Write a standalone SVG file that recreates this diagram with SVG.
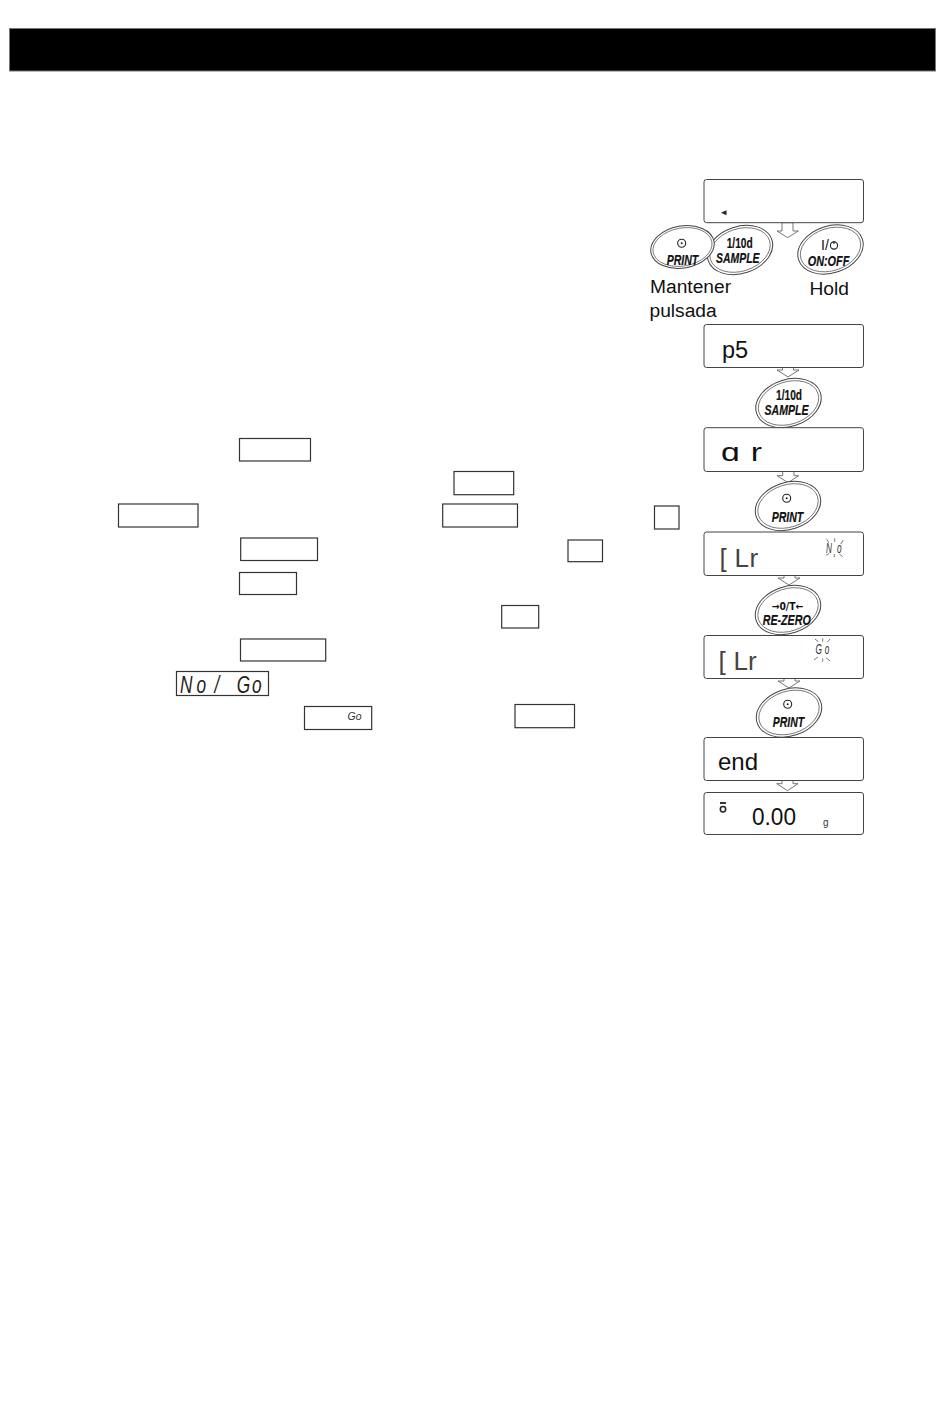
<svg xmlns="http://www.w3.org/2000/svg" width="950" height="1408" viewBox="0 0 950 1408">
<style>
text{font-family:"Liberation Sans",Arial,sans-serif;fill:#111}
.box{fill:#fff;stroke:#333;stroke-width:1.2}
.lcd{fill:#fff;stroke:#444;stroke-width:1}
.o1{fill:#fff;stroke:#444;stroke-width:1}
.o2{fill:none;stroke:#666;stroke-width:.8}
.k{font-weight:bold;font-style:italic;font-size:14px;stroke:#111;stroke-width:.2}
.n{font-weight:bold;font-size:14px;stroke:#111;stroke-width:.2}
.arrow{fill:#fff;stroke:#666;stroke-width:.9}
.ray{stroke:#555;stroke-width:.8;fill:none}
.seg{font-size:26px;font-weight:normal;fill:#444}
.sym{fill:none;stroke:#222;stroke-width:1.1}
</style>
<defs>
<g id="oval"><ellipse class="o1" rx="33.5" ry="23.5" transform="rotate(-18)"/><ellipse class="o2" rx="31" ry="21.2" transform="rotate(-18)"/></g>
<g id="ovalw"><ellipse class="o1" rx="32" ry="21" transform="rotate(-10)"/><ellipse class="o2" rx="29.8" ry="19" transform="rotate(-10)"/></g>
</defs>
<rect id="header" x="9.5" y="28.5" width="926" height="42.5" fill="#000" stroke="#777" stroke-width="1"/>

<g id="connectors">
<polygon class="arrow" points="782,222.7 793,222.7 793,231 798.3,231 787.7,237.7 777,231 782,231"/>
<polygon class="arrow" points="782.5,367.5 793.5,367.5 793.5,370 799,370 788,377 777,370 782.5,370"/>
<polygon class="arrow" points="782.7,471.5 794,471.5 794,475.7 798.7,475.7 788,482.7 777,475.7 782.7,475.7"/>
<polygon class="arrow" points="784,575.5 795,575.5 795,578 800,578 789,585 778,578 784,578"/>
<polygon class="arrow" points="784,678.5 795,678.5 795,681 800,681 789,688 778,681 784,681"/>
<polygon class="arrow" points="782,780.5 793,780.5 793,783.7 798,783.7 787.5,790.7 776.7,783.7 782,783.7"/>
</g>

<g id="inline-boxes">
<rect class="box" x="239.5" y="438.5" width="71" height="22.5"/>
<rect class="box" x="118.5" y="504" width="79.5" height="23"/>
<rect class="box" x="240.7" y="538" width="76.8" height="22.5"/>
<rect class="box" x="239.5" y="572.5" width="57" height="22"/>
<rect class="box" x="240.5" y="639" width="85.2" height="22"/>
<rect class="box" x="454" y="471.5" width="59.7" height="23.2"/>
<rect class="box" x="442.7" y="504" width="74.8" height="23"/>
<rect class="box" x="654.5" y="506" width="24.5" height="23"/>
<rect class="box" x="568" y="540" width="34.5" height="21.7"/>
<rect class="box" x="501.7" y="605.5" width="37" height="22.5"/>
<rect class="box" x="515" y="704.5" width="59.5" height="23.2"/>
</g>
<g id="box-nogo">
<rect class="box" x="176.5" y="671.5" width="92" height="24"/>
<text transform="translate(180,693) scale(.72,1)" font-size="24" font-style="italic" x="0 23 48 79 100" style="fill:#222">No/Go</text>
</g>
<g id="box-go">
<rect class="box" x="304.5" y="706.5" width="67.2" height="23"/>
<text x="347.5" y="720" font-size="11" font-style="italic" textLength="14" lengthAdjust="spacingAndGlyphs" style="fill:#333">Go</text>
</g>

<g id="lcd-1">
<rect class="lcd" x="704" y="179.5" width="159.5" height="43.2" rx="2.5"/>
<polygon points="721,212.8 726.5,210.3 726.5,215.2" fill="#222"/>
</g>
<g id="key-sample-1">
<use href="#oval" x="740" y="250"/>
<text class="n" x="726.7" y="248" textLength="26" lengthAdjust="spacingAndGlyphs">1/10d</text>
<text class="k" x="716" y="263" textLength="43.5" lengthAdjust="spacingAndGlyphs">SAMPLE</text>
</g>
<g id="key-print-1">
<use href="#ovalw" x="682.5" y="247"/>
<circle class="sym" cx="681.7" cy="243.3" r="4"/><circle cx="681.7" cy="243.3" r="1" fill="#222"/>
<text class="k" x="666.7" y="265" textLength="31.6" lengthAdjust="spacingAndGlyphs">PRINT</text>
</g>
<g id="key-onoff">
<use href="#oval" x="830.5" y="249.5"/>
<text x="821" y="250" font-size="14" style="font-weight:normal">I/</text>
<circle class="sym" cx="834" cy="245.5" r="3.6"/><line class="sym" x1="834" y1="241" x2="834" y2="244"/>
<text class="k" x="807.7" y="266" textLength="41.6" lengthAdjust="spacingAndGlyphs">ON:OFF</text>
</g>
<text id="label-mantener" x="650" y="293" font-size="19.2">Mantener</text>
<text id="label-pulsada" x="649.5" y="317" font-size="19.2">pulsada</text>
<text id="label-hold" x="809.5" y="295" font-size="19.2">Hold</text>

<g id="lcd-2">
<rect class="lcd" x="704" y="324.5" width="159.5" height="43" rx="2.5"/>
<text x="722" y="358" font-size="23.5">p5</text>
</g>
<g id="key-sample-2">
<use href="#oval" x="788.5" y="403"/>
<text class="n" x="776" y="400" textLength="26" lengthAdjust="spacingAndGlyphs">1/10d</text>
<text class="k" x="764.5" y="415" textLength="44" lengthAdjust="spacingAndGlyphs">SAMPLE</text>
</g>
<g id="lcd-3">
<rect class="lcd" x="704" y="427.7" width="159.5" height="43.8" rx="2.5"/>
<text transform="translate(721,461) scale(1.35,1)" font-size="25" x="0 22">ɑr</text>
</g>
<g id="key-print-2">
<use href="#oval" x="788" y="506"/>
<circle class="sym" cx="786.7" cy="498.3" r="4"/><circle cx="786.7" cy="498.3" r="1" fill="#222"/>
<text class="k" x="771.7" y="521.7" textLength="31.6" lengthAdjust="spacingAndGlyphs">PRINT</text>
</g>
<g id="lcd-4">
<rect class="lcd" x="704" y="532" width="159.5" height="43.5" rx="2.5"/>
<text class="seg" y="566.5" x="719.5 734.5 749.5">[Lr</text>
<text transform="translate(826,553) scale(.55,1)" font-size="15" font-style="italic" x="0 20" style="fill:#333">No</text>
<path class="ray" d="M843.3 540L840.7 544M826.7 539.3L828.7 542.7M834.7 538.3V542M826 555.3L829.3 553.3M834.3 554V557.3M839.3 554L842.7 556.7"/>
</g>
<g id="key-rezero">
<use href="#oval" x="788" y="610"/>
<text x="771.7" y="610" textLength="31.6" lengthAdjust="spacingAndGlyphs" style="font-family:'DejaVu Sans',sans-serif;font-size:10px;font-weight:bold">→0/T←</text>
<text class="k" x="762.7" y="625" textLength="48" lengthAdjust="spacingAndGlyphs">RE-ZERO</text>
</g>
<g id="lcd-5">
<rect class="lcd" x="704" y="635.5" width="159.5" height="43" rx="2.5"/>
<text class="seg" y="669.5" x="718.5 733.5 748">[Lr</text>
<text transform="translate(815.5,654) scale(.55,1)" font-size="15" font-style="italic" x="0 17" style="fill:#333">Go</text>
<path class="ray" d="M815 639L818.3 641.7M822.7 638.3V641.7M830 639L827.3 642.3M814 660L818 657M822.7 658.3V661.7M830 661L826 657.7"/>
</g>
<g id="key-print-3">
<use href="#oval" x="789" y="712.5"/>
<circle class="sym" cx="787.7" cy="704.3" r="4"/><circle cx="787.7" cy="704.3" r="1" fill="#222"/>
<text class="k" x="772.7" y="726.7" textLength="31.4" lengthAdjust="spacingAndGlyphs">PRINT</text>
</g>
<g id="lcd-6">
<rect class="lcd" x="704" y="737.5" width="159.5" height="43" rx="2.5"/>
<text x="718" y="770" font-size="24">end</text>
</g>
<g id="lcd-7">
<rect class="lcd" x="704" y="792.5" width="159.5" height="42" rx="2.5"/>
<circle class="sym" cx="723" cy="809.3" r="2.7" style="stroke-width:1.5"/>
<line class="sym" x1="720" y1="803" x2="726" y2="803" style="stroke-width:1.8"/>
<text x="752" y="825" font-size="24" textLength="44" lengthAdjust="spacingAndGlyphs">0.00</text>
<text x="823" y="826" font-size="11" textLength="5.5" lengthAdjust="spacingAndGlyphs" style="fill:#333">g</text>
</g>
</svg>
